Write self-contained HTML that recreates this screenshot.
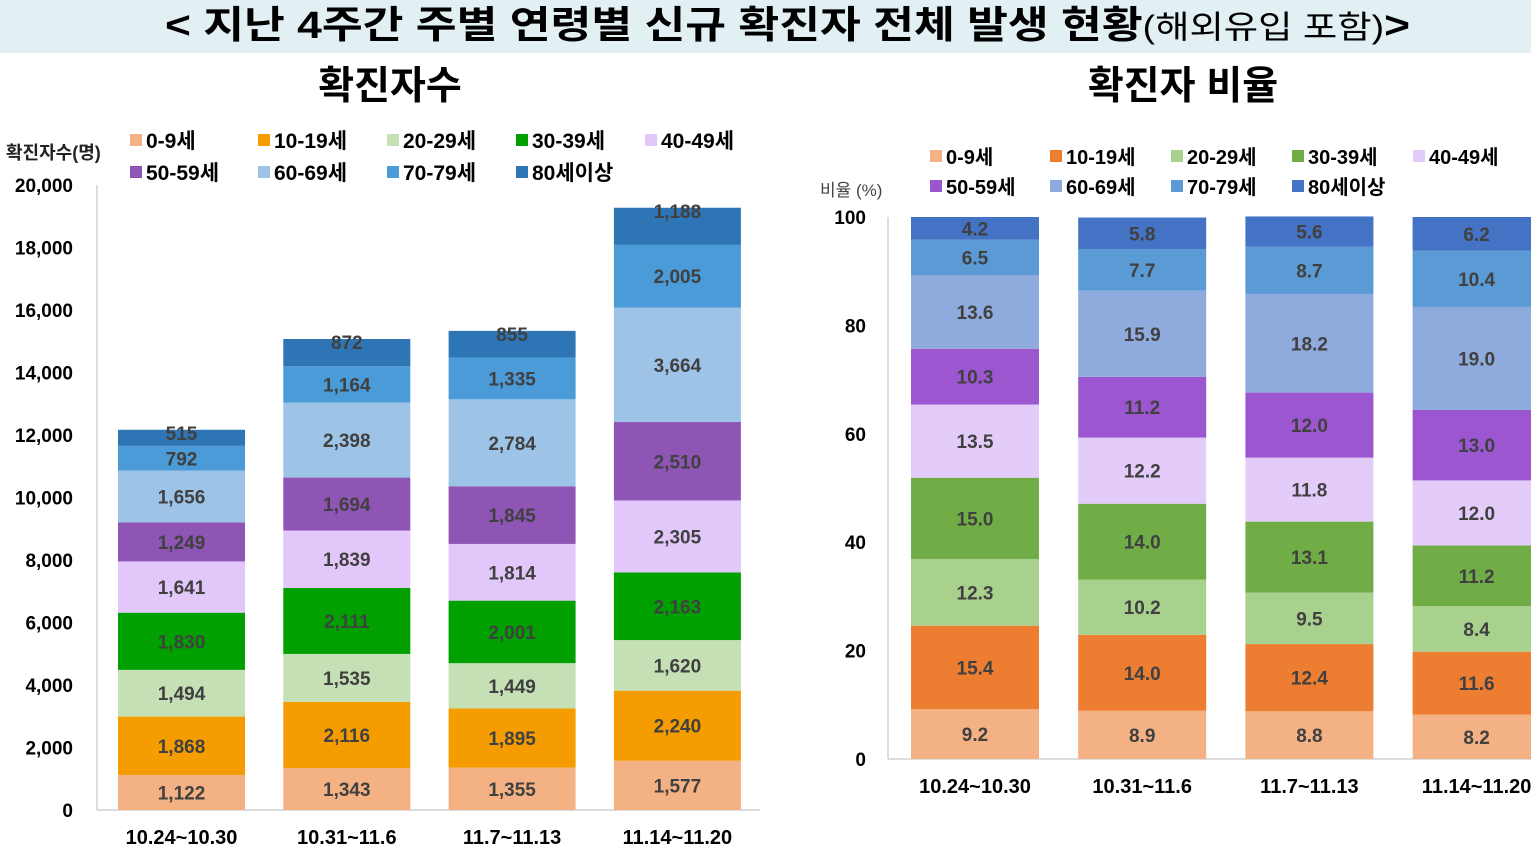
<!DOCTYPE html>
<html><head><meta charset="utf-8"><style>
body{margin:0;width:1531px;height:855px;overflow:hidden;background:#fff;font-family:"Liberation Sans","Noto Sans CJK KR",sans-serif}
svg text{font-family:"Liberation Sans","Noto Sans CJK KR",sans-serif}
</style></head><body>
<svg id="s" width="1531" height="855" xmlns="http://www.w3.org/2000/svg">
<rect x="0" y="0" width="1531" height="53" fill="#E2F0F4"/>
<text x="165" y="38" textLength="1245" lengthAdjust="spacingAndGlyphs" font-size="38" font-weight="bold" fill="#000">&lt; 지난 4주간 주별 연령별 신규 확진자 전체 발생 현황<tspan font-weight="normal" font-size="32">(해외유입 포함)</tspan>&gt;</text>
<text x="390" y="99" text-anchor="middle" font-size="39" font-weight="bold">확진자수</text>
<text x="1183" y="99" text-anchor="middle" font-size="39" font-weight="bold">확진자 비율</text>
<text x="6" y="159" font-size="18" font-weight="bold" fill="#222">확진자수(명)</text>
<text x="820" y="196" font-size="17" fill="#444">비율 (%)</text>
<g id="L"></g><g id="R"></g>
</svg>
<script>
const categories=["10.24~10.30","10.31~11.6","11.7~11.13","11.14~11.20"];
const groups=["0-9세","10-19세","20-29세","30-39세","40-49세","50-59세","60-69세","70-79세","80세이상"];
const counts0=[1122,1868,1494,1830,1641,1249,1656,792,515];
const counts1=[1343,2116,1535,2111,1839,1694,2398,1164,872];
const counts2=[1355,1895,1449,2001,1814,1845,2784,1335,855];
const counts3=[1577,2240,1620,2163,2305,2510,3664,2005,1188];
const pct0=[9.2,15.4,12.3,15.0,13.5,10.3,13.6,6.5,4.2];
const pct1=[8.9,14.0,10.2,14.0,12.2,11.2,15.9,7.7,5.8];
const pct2=[8.8,12.4,9.5,13.1,11.8,12.0,18.2,8.7,5.6];
const pct3=[8.2,11.6,8.4,11.2,12.0,13.0,19.0,10.4,6.2];
const leftTicks=[0,2000,4000,6000,8000,10000,12000,14000,16000,18000,20000];
const rightTicks=[0,20,40,60,80,100];
const lColors=["#F4B183","#F59D00","#C5E0B4","#00A000","#E2C8FA","#8E55B5","#9DC3E6","#4A9BD8","#2E75B6"];
const rColors=["#F4B183","#ED7D31","#A9D18E","#70AD47","#E4CCFA","#9B56D0","#8FAADC","#5B9BD5","#4472C4"];
const NS="http://www.w3.org/2000/svg";
function mk(p,t,a){const e=document.createElementNS(NS,t);for(const k in a)e.setAttribute(k,a[k]);p.appendChild(e);return e;}
function draw(g,cfg){
  const y=v=>cfg.y0-(v-cfg.min)/(cfg.max-cfg.min)*(cfg.y0-cfg.y1);
  const ax=mk(g,"line",{x1:cfg.ax,x2:cfg.ax,y1:cfg.y1,y2:cfg.y0,stroke:"#bbb"});
  
  
  const bl=mk(g,"line",{x1:cfg.ax,x2:cfg.axEnd,y1:cfg.y0,y2:cfg.y0,stroke:"#bbb"});
  
  
  cfg.ticks.forEach(t=>{const e=mk(g,"text",{x:cfg.tickX,y:y(t)+7,"text-anchor":"end","font-size":cfg.tfs,"font-weight":"bold"});e.textContent=t.toLocaleString("en-US");
    
    });
  cfg.series.forEach((vals,i)=>{
    const cx=cfg.bx0+i*cfg.step;let cum=0;
    vals.forEach((v,j)=>{
      const ya=y(cum),yb=y(cum+v);cum+=v;
      const r=mk(g,"rect",{x:cx,y:yb,width:cfg.bw,height:ya-yb,fill:cfg.colors[j]});
      
      
      const ty=(cfg.topLabel&&j===vals.length-1)?yb+10:(ya+yb)/2+7;
      const t=mk(g,"text",{x:cx+cfg.bw/2,y:ty,"text-anchor":"middle","font-size":cfg.vfs,"font-weight":"bold",fill:"#404040"});
      t.textContent=cfg.fmt(v);
      
      
    });
    const c=mk(g,"text",{x:cx+cfg.bw/2,y:cfg.catY,"text-anchor":"middle","font-size":20,"font-weight":"bold"});c.textContent=categories[i];
    
    
  });
  groups.forEach((n,j)=>{
    const lx=cfg.legX[j%5],ly=cfg.legY[Math.floor(j/5)];
    const sq=mk(g,"rect",{x:lx,y:ly-12,width:12,height:12,fill:cfg.colors[j]});
    
    
    const t=mk(g,"text",{x:lx+16,y:ly+2,"font-size":cfg.lfs,"font-weight":"bold"});t.textContent=n;
    
    
  });
}
draw(document.getElementById("L"),{min:0,max:20000,y0:810,y1:185,ax:97,axEnd:760,ticks:leftTicks,tickX:73,tfs:19,
  series:[counts0,counts1,counts2,counts3],bx0:118,step:165.3,bw:127,colors:lColors,vfs:19,catY:844,topLabel:true,
  fmt:v=>v.toLocaleString("en-US"),legX:[130,258,387,516,645],legY:[146,178],lfs:21});
draw(document.getElementById("R"),{min:0,max:100,y0:759,y1:217,ax:888,axEnd:1531,ticks:rightTicks,tickX:866,tfs:19,
  series:[pct0,pct1,pct2,pct3],bx0:911,step:167.2,bw:128,colors:rColors,vfs:19,catY:793,topLabel:false,
  fmt:v=>v.toFixed(1),legX:[930,1050,1171,1292,1413],legY:[162,192],lfs:20});
</script>
</body></html>
